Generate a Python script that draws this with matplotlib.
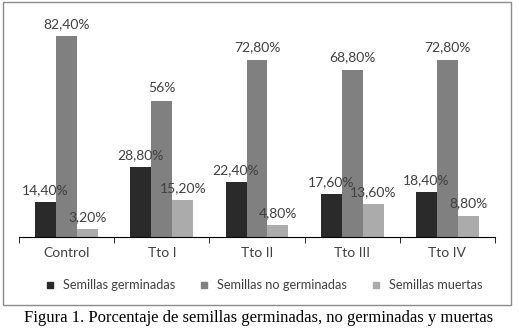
import numpy as np
import matplotlib.pyplot as plt
from matplotlib.patches import Rectangle
from matplotlib.lines import Line2D

categorias = ['Control', 'Tto I', 'Tto II', 'Tto III', 'Tto IV']
germinadas = [14.4, 28.8, 22.4, 17.6, 18.4]
no_germinadas = [82.4, 56.0, 72.8, 68.8, 72.8]
muertas = [3.2, 15.2, 4.8, 13.6, 8.8]
etq_germ = ['14,40%', '28,80%', '22,40%', '17,60%', '18,40%']
etq_nogerm = ['82,40%', '56%', '72,80%', '68,80%', '72,80%']
etq_muertas = ['3,20%', '15,20%', '4,80%', '13,60%', '8,80%']

series = ['Semillas germinadas', 'Semillas no germinadas', 'Semillas muertas']
colores = ['#2a2a2a', '#808080', '#ababab']
gris_txt = '#404040'

plt.rcParams['font.family'] = ['Lato', 'DejaVu Sans']

fig = plt.figure(figsize=(5.19, 3.31), dpi=100)
ax = fig.add_axes([19/519, 94/331, 476/519, 219/331])

x = np.arange(len(categorias))
ancho = 0.22
datos = [germinadas, no_germinadas, muertas]
etiquetas = [etq_germ, etq_nogerm, etq_muertas]
for i, (vals, etq) in enumerate(zip(datos, etiquetas)):
    pos = x + (i - 1) * ancho
    ax.bar(pos, vals, width=ancho, color=colores[i], label=series[i])
    for p, v, t in zip(pos, vals, etq):
        ax.annotate(t, (p, v), xytext=(0, 4.5), textcoords='offset points',
                    ha='center', va='bottom', fontsize=10, color=gris_txt)

ax.set_xlim(-0.5, len(categorias) - 0.5)
ax.set_ylim(0, 90)
ax.set_xticks(x)
ax.set_xticklabels(categorias, fontsize=10, color=gris_txt)
ax.set_xticks(np.arange(-0.5, len(categorias)), minor=True)
ax.tick_params(axis='x', which='major', length=0, pad=7)
ax.tick_params(axis='x', which='minor', length=4, direction='out', color='black')
ax.set_yticks([])
for s in ['left', 'right', 'top']:
    ax.spines[s].set_visible(False)
ax.spines['bottom'].set_color('black')

handles = [Line2D([], [], marker='s', ls='none', markersize=5, color=c) for c in colores]
fig.legend(handles, series, loc='center', bbox_to_anchor=(260/519, 1 - 285/331),
           ncol=3, frameon=False, fontsize=9.2, handletextpad=0.0, columnspacing=1.3,
           labelcolor=gris_txt)

# marco de la figura
fig.patches.append(Rectangle((3/519, 1 - 305/331), 508/519, 303/331,
                             transform=fig.transFigure, fill=False,
                             edgecolor='#8a8a8a', lw=1))

fig.text(259/519, 1 - 318/331,
         'Figura 1. Porcentaje de semillas germinadas, no germinadas y muertas',
         ha='center', va='center', fontsize=12, family='Liberation Serif', color='black')

fig.savefig('out.png', dpi=100)
